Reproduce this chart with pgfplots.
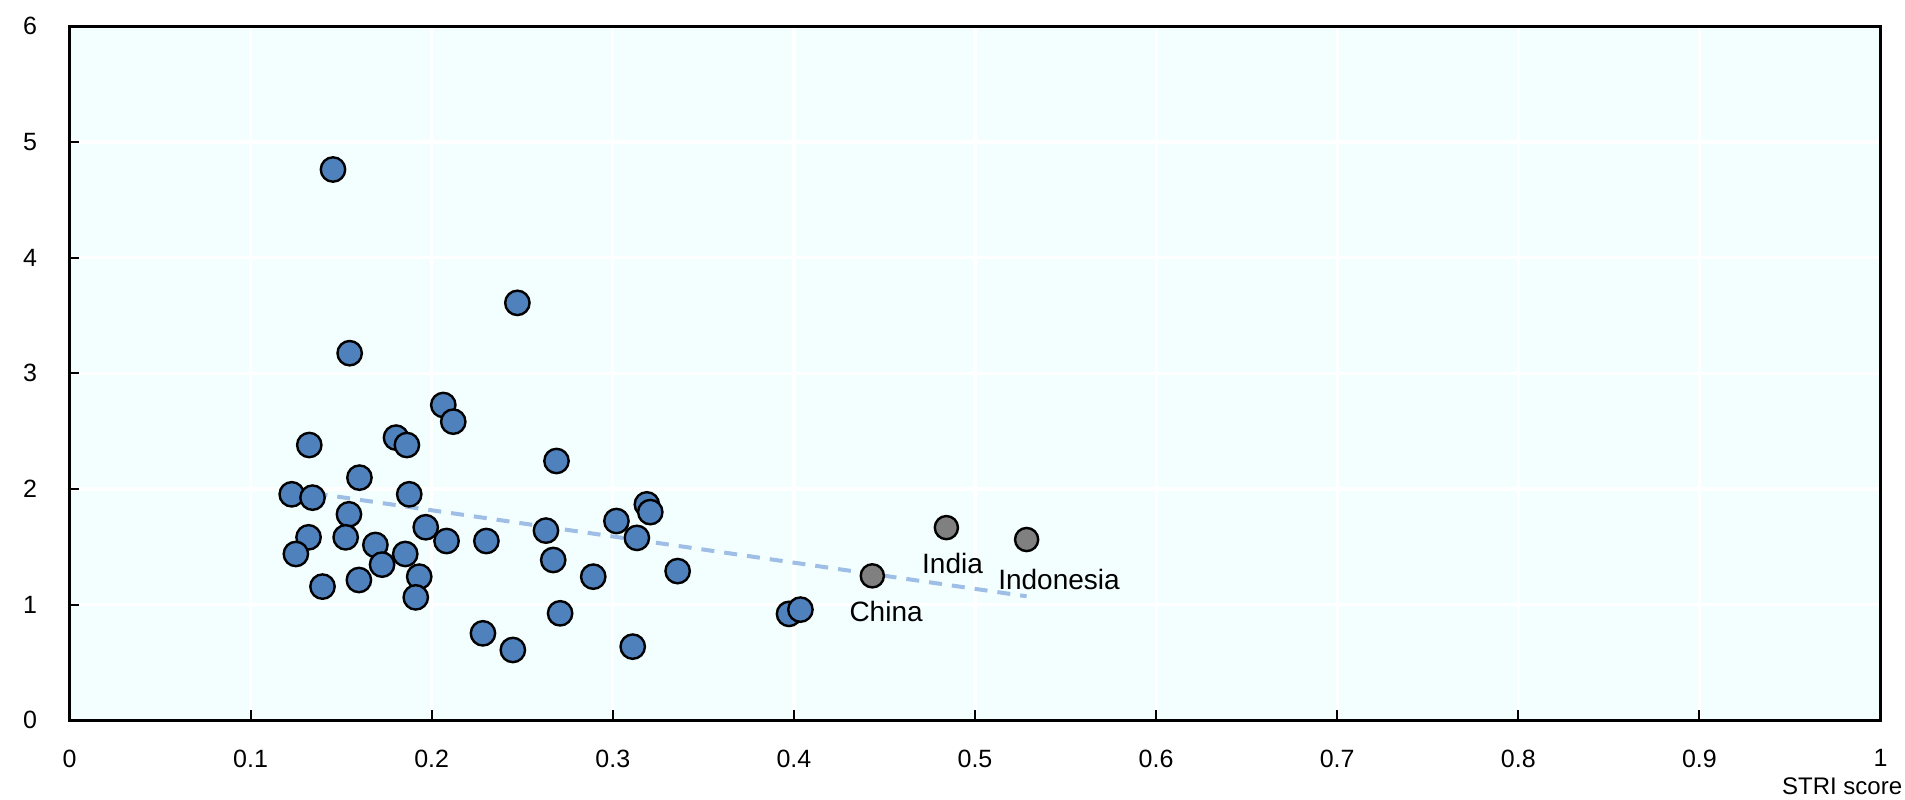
\documentclass[border=0pt]{standalone}
\usepackage{pgfplots}
\pgfplotsset{compat=1.18}
\usepackage{fontspec}
\setmainfont{Liberation Sans}
\definecolor{bgc}{RGB}{243,255,255}
\definecolor{ptblue}{RGB}{79,129,189}
\definecolor{ptgray}{RGB}{128,128,128}
\definecolor{trendc}{RGB}{158,190,230}
\pgfplotstableread{
x y
0.1455 4.762
0.2473 3.609
0.1547 3.174
0.2064 2.726
0.2119 2.582
0.1324 2.380
0.1803 2.444
0.1863 2.380
0.2689 2.242
0.1601 2.098
0.1227 1.954
0.1342 1.925
0.1876 1.954
0.1543 1.781
0.1967 1.669
0.1320 1.582
0.1525 1.582
0.2082 1.550
0.1689 1.516
0.2302 1.550
0.2631 1.640
0.3020 1.723
0.3188 1.867
0.3207 1.800
0.3133 1.577
0.1250 1.438
0.1854 1.438
0.1726 1.346
0.1931 1.242
0.1598 1.213
0.1397 1.156
0.1912 1.063
0.2671 1.386
0.2892 1.242
0.2709 0.925
0.2283 0.752
0.2448 0.608
0.3110 0.637
0.3358 1.290
0.3973 0.920
0.4036 0.957
}\bluedata
\pgfplotstableread{
x y
0.4433 1.249
0.4842 1.666
0.5285 1.563
}\graydata
\begin{document}
\begin{tikzpicture}
\path[use as bounding box] (-34.75pt,-39.35pt) rectangle (917.75pt,360.15pt);
\begin{axis}[
  at={(0pt,0pt)}, anchor=south west,
  scale only axis, width=905.5pt, height=347pt,
  xmin=0, xmax=1, ymin=0, ymax=6,
  xtick={0,0.1,0.2,0.3,0.4,0.5,0.6,0.7,0.8,0.9,1},
  ytick={0,1,2,3,4,5,6},
  axis background/.style={fill=bgc},
  grid=major,
  major grid style={white, line width=1.6pt},
  axis line style={black, line width=1.75pt},
  tick align=inside,
  major tick length=5pt,
  tick style={black, line width=1pt},
  xtick pos=bottom, ytick pos=left,
  /pgf/number format/assume math mode=true,
  ticklabel style={font=\fontsize{12.5}{14}\selectfont},
  xticklabel style={anchor=north, inner sep=0pt, yshift=-14.5pt},
  yticklabel style={anchor=east, inner sep=0pt, xshift=-16pt},
  xlabel={STRI score},
  xlabel style={at={(rel axis cs:1,0)}, anchor=north east, inner sep=0pt, xshift=11pt, yshift=-28.3pt, font=\fontsize{12}{14}\selectfont},
  clip=false,
]
\addplot[only marks, mark=*, mark size=5.8pt, mark options={fill=ptgray, draw=black, line width=1.2pt}] table[x=x, y=y] {\graydata};
\addplot[trendc, line width=2pt, dash pattern=on 6.5pt off 5pt] coordinates {(0.1227,1.991) (0.5285,1.072)};
\addplot[only marks, mark=*, mark size=6.1pt, mark options={fill=ptblue, draw=black, line width=1.2pt}] table[x=x, y=y] {\bluedata};
\node[font=\fontsize{14}{16}\selectfont, inner sep=0pt] at (axis cs:0.4509,0.945) {China};
\node[font=\fontsize{14}{16}\selectfont, inner sep=0pt] at (axis cs:0.4876,1.354) {India};
\node[font=\fontsize{14}{16}\selectfont, inner sep=0pt] at (axis cs:0.5464,1.217) {Indonesia};
\end{axis}
\end{tikzpicture}
\end{document}
